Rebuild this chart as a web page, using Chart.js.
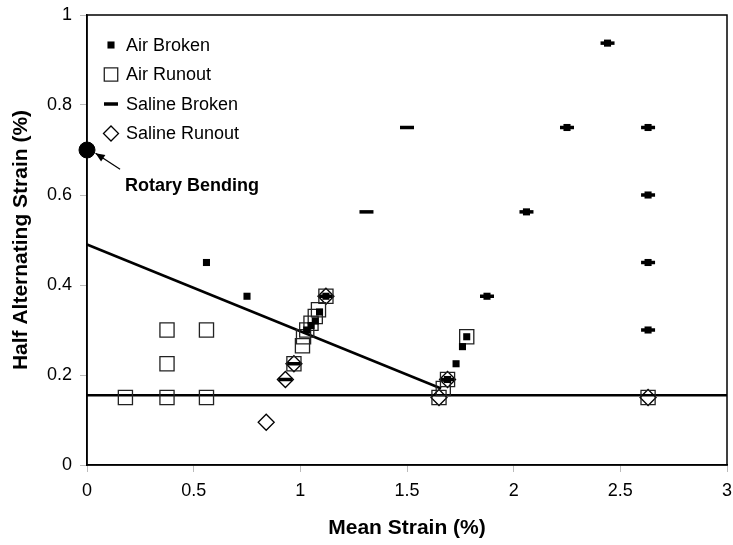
<!DOCTYPE html>
<html>
<head>
<meta charset="utf-8">
<script src="https://cdn.jsdelivr.net/npm/chart.js"></script>
<style>
  html, body { margin: 0; padding: 0; background: #fff; }
  #wrap { width: 733px; height: 545px; }
</style>
</head>
<body>
<div id="wrap"><canvas id="strainChart"></canvas></div>
<script>
// ======= DATA =======
const airBrokenX = [0.56, 0.75, 1.03, 1.05, 1.07, 1.09, 1.12, 1.69, 1.73, 1.76, 1.78, 1.875, 2.06, 2.25, 2.44, 2.63, 2.63, 2.63, 2.63];
const airBrokenY = [0.45, 0.375, 0.30, 0.31, 0.32, 0.34, 0.375, 0.19, 0.225, 0.263, 0.285, 0.375, 0.5625, 0.75, 0.9375, 0.75, 0.6, 0.45, 0.3];

const airRunoutX = [0.18, 0.375, 0.375, 0.375, 0.56, 0.56, 0.97, 1.01, 1.015, 1.03, 1.05, 1.07, 1.085, 1.12, 1.65, 1.67, 1.69, 1.78, 2.63];
const airRunoutY = [0.15, 0.15, 0.225, 0.30, 0.30, 0.15, 0.225, 0.265, 0.285, 0.30, 0.315, 0.33, 0.345, 0.375, 0.15, 0.17, 0.19, 0.285, 0.15];

const salineBrokenX = [0.93, 0.97, 1.12, 1.31, 1.5, 1.69, 1.875, 2.06, 2.25, 2.44, 2.63, 2.63, 2.63, 2.63];
const salineBrokenY = [0.19, 0.225, 0.375, 0.5625, 0.75, 0.19, 0.375, 0.5625, 0.75, 0.9375, 0.75, 0.6, 0.45, 0.3];

const salineRunoutX = [0.84, 0.93, 0.97, 1.12, 1.65, 1.69, 2.63];
const salineRunoutY = [0.095, 0.19, 0.225, 0.375, 0.15, 0.19, 0.15];

const rotaryX = [0];
const rotaryY = [0.7];

const fitLineX = [0, 1.66];
const fitLineY = [0.49, 0.17];

const limitLineX = [0, 3];
const limitLineY = [0.155, 0.155];

const xTicks = [0, 0.5, 1, 1.5, 2, 2.5, 3];
const yTicks = [0, 0.2, 0.4, 0.6, 0.8, 1];

function pts(xs, ys) {
  return xs.map((x, i) => ({ x: x, y: ys[i] }));
}

// ======= STYLE OF EACH MARKER SERIES =======
const markerSeries = [
  { label: 'Air Broken', data: pts(airBrokenX, airBrokenY), pointStyle: 'rect', pointRadius: 5,
    backgroundColor: '#000', borderColor: '#000', borderWidth: 0, legendRadius: 5 },
  { label: 'Air Runout', data: pts(airRunoutX, airRunoutY), pointStyle: 'rect', pointRadius: 10,
    backgroundColor: 'rgba(0,0,0,0)', borderColor: '#222', borderWidth: 1.3, legendRadius: 9.5 },
  { label: 'Saline Broken', data: pts(salineBrokenX, salineBrokenY), pointStyle: 'line', pointRadius: 7,
    backgroundColor: '#000', borderColor: '#000', borderWidth: 3.5, legendRadius: 7 },
  { label: 'Saline Runout', data: pts(salineRunoutX, salineRunoutY), pointStyle: 'rectRot', pointRadius: 8,
    backgroundColor: 'rgba(0,0,0,0)', borderColor: '#000', borderWidth: 1.3, legendRadius: 7.5 }
];

// ======= PLUGINS =======
const boxPlugin = {
  id: 'plotBox',
  afterDraw(chart) {
    const a = chart.chartArea, ctx = chart.ctx;
    ctx.save();
    ctx.strokeStyle = '#000';
    ctx.lineWidth = 1.5;
    ctx.strokeRect(a.left, a.top, a.right - a.left, a.bottom - a.top);
    ctx.restore();
  }
};

const legendPlugin = {
  id: 'innerLegend',
  afterDraw(chart) {
    const ctx = chart.ctx;
    ctx.save();
    ctx.font = '18px "Liberation Sans", Arial, sans-serif';
    ctx.textBaseline = 'middle';
    markerSeries.forEach((s, i) => {
      const y = 45 + i * 29.5;
      ctx.fillStyle = s.backgroundColor;
      ctx.strokeStyle = s.borderColor;
      ctx.lineWidth = s.borderWidth;
      Chart.helpers.drawPoint(ctx, { pointStyle: s.pointStyle, radius: s.legendRadius, rotation: 0, borderWidth: s.borderWidth }, 111, y);
      ctx.fillStyle = '#000';
      ctx.fillText(s.label, 126, y + 1);
    });
    ctx.restore();
  }
};

// arrow + label for the rotary bending point, in data units
const arrowTip = { x: 0.04, y: 0.693 };
const arrowTail = { x: 0.155, y: 0.657 };
const rotaryLabelPos = { x: 0.178, y: 0.62 };

const annotationPlugin = {
  id: 'rotaryLabel',
  afterDraw(chart) {
    const xs = chart.scales.x, ys = chart.scales.y, ctx = chart.ctx;
    const tx = xs.getPixelForValue(arrowTip.x), ty = ys.getPixelForValue(arrowTip.y);
    const sx = xs.getPixelForValue(arrowTail.x), sy = ys.getPixelForValue(arrowTail.y);
    ctx.save();
    ctx.strokeStyle = '#000';
    ctx.fillStyle = '#000';
    ctx.lineWidth = 1.2;
    ctx.beginPath();
    ctx.moveTo(sx, sy);
    ctx.lineTo(tx, ty);
    ctx.stroke();
    const ang = Math.atan2(ty - sy, tx - sx);
    ctx.beginPath();
    ctx.moveTo(tx, ty);
    ctx.lineTo(tx - 10 * Math.cos(ang - 0.4), ty - 10 * Math.sin(ang - 0.4));
    ctx.lineTo(tx - 10 * Math.cos(ang + 0.4), ty - 10 * Math.sin(ang + 0.4));
    ctx.closePath();
    ctx.fill();
    ctx.font = 'bold 18px "Liberation Sans", Arial, sans-serif';
    ctx.textBaseline = 'middle';
    ctx.fillText('Rotary Bending', xs.getPixelForValue(rotaryLabelPos.x), ys.getPixelForValue(rotaryLabelPos.y));
    ctx.restore();
  }
};

// ======= BUILD CHART =======
const datasets = markerSeries.map(s => ({
  label: s.label,
  data: s.data,
  pointStyle: s.pointStyle,
  pointRadius: s.pointRadius,
  pointHoverRadius: s.pointRadius,
  pointBackgroundColor: s.backgroundColor,
  pointBorderColor: s.borderColor,
  pointBorderWidth: s.borderWidth,
  showLine: false
}));

datasets.push({
  label: 'Rotary Bending',
  data: pts(rotaryX, rotaryY),
  pointStyle: 'circle',
  pointRadius: 8,
  pointBackgroundColor: '#000',
  pointBorderColor: '#000',
  showLine: false
});
datasets.push({
  label: 'fit',
  data: pts(fitLineX, fitLineY),
  showLine: true,
  borderColor: '#000',
  borderWidth: 2.5,
  pointRadius: 0
});
datasets.push({
  label: 'limit',
  data: pts(limitLineX, limitLineY),
  showLine: true,
  borderColor: '#000',
  borderWidth: 2.5,
  pointRadius: 0
});

const tickFont = { family: '"Liberation Sans", Arial, sans-serif', size: 18 };
const titleFont = { family: '"Liberation Sans", Arial, sans-serif', size: 21, weight: 'bold' };
const plainLabel = (v) => String(Number(v));

new Chart(document.getElementById('strainChart'), {
  type: 'scatter',
  data: { datasets: datasets },
  options: {
    responsive: true,
    maintainAspectRatio: false,
    animation: false,
    clip: false,
    layout: { autoPadding: false, padding: { top: 15, right: 6, left: 0, bottom: 0 } },
    plugins: {
      legend: { display: false },
      tooltip: { enabled: false }
    },
    scales: {
      x: {
        type: 'linear',
        min: 0,
        max: 3,
        afterBuildTicks: (scale) => { scale.ticks = xTicks.map(v => ({ value: v })); },
        afterFit: (scale) => { scale.height = 80; scale.paddingLeft = 0; scale.paddingRight = 0; },
        ticks: { font: tickFont, color: '#000', padding: 8, maxRotation: 0, callback: plainLabel },
        grid: { drawOnChartArea: false, drawTicks: true, tickLength: 7, color: '#bbb' },
        border: { display: true, color: '#000', width: 1.5 },
        title: { display: true, text: 'Mean Strain (%)', font: titleFont, color: '#000', padding: { top: 12 } }
      },
      y: {
        type: 'linear',
        min: 0,
        max: 1,
        afterBuildTicks: (scale) => { scale.ticks = yTicks.map(v => ({ value: v })); },
        afterFit: (scale) => { scale.width = 87; scale.paddingTop = 0; scale.paddingBottom = 0; },
        ticks: { font: tickFont, color: '#000', padding: 8, callback: plainLabel },
        grid: { drawOnChartArea: false, drawTicks: true, tickLength: 7, color: '#bbb' },
        border: { display: true, color: '#000', width: 1.5 },
        title: { display: true, text: 'Half Alternating Strain (%)', font: titleFont, color: '#000', padding: { top: 9, bottom: 2 } }
      }
    }
  },
  plugins: [boxPlugin, legendPlugin, annotationPlugin]
});
</script>
</body>
</html>
